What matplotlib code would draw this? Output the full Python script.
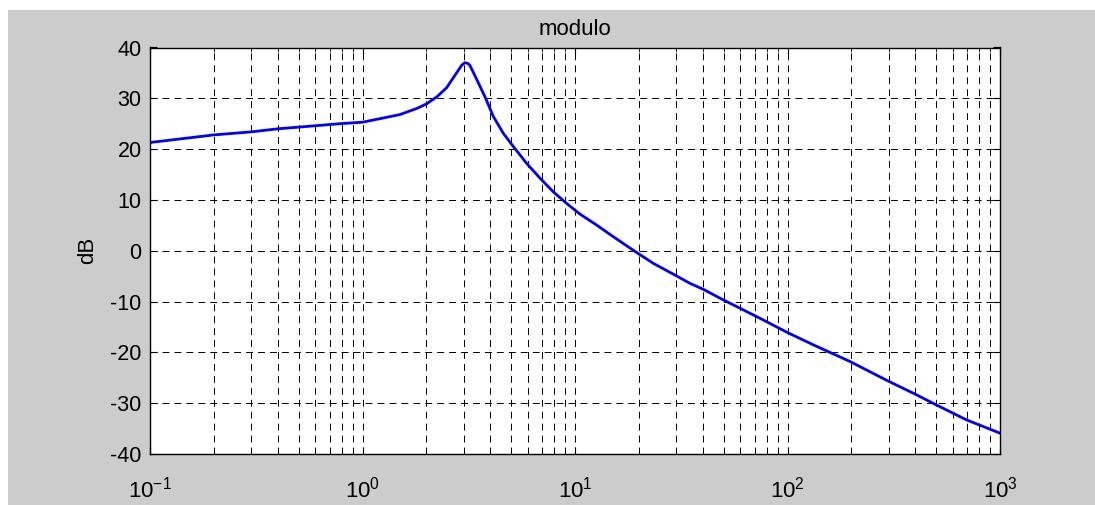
import matplotlib
matplotlib.use('Agg')
import matplotlib.pyplot as plt
from matplotlib.patches import Rectangle
from matplotlib.ticker import LogLocator, NullFormatter

# Frequenz [rad/s] und Betrag [dB]
freq = [0.1, 0.2, 0.3, 0.4, 0.6, 0.78, 1.0, 1.21, 1.5, 1.8, 2.0, 2.24, 2.49, 2.72,
        2.93, 3.03, 3.12, 3.20, 3.44, 3.77, 4.13, 4.60, 5.13, 5.92, 6.84, 7.90,
        9.14, 10.56, 12.6, 15.1, 18.8, 23.4, 29.6, 34.7, 40.2, 49.5, 74.3, 100,
        132, 197, 293, 398, 494, 697, 1000]
mag_db = [21.3, 22.8, 23.4, 24.0, 24.6, 25.0, 25.3, 26.0, 26.8, 28.0, 28.9, 30.3, 32.1, 34.5,
          36.5, 37.0, 36.9, 36.5, 33.8, 30.3, 26.4, 23.1, 20.5, 17.2, 14.3, 11.6,
          9.3, 7.2, 5.1, 2.8, 0.1, -2.5, -4.8, -6.4, -7.6, -9.6, -13.3, -16.1,
          -18.5, -21.8, -25.5, -28.2, -30.2, -33.3, -35.9]

y_ticks = [-40, -30, -20, -10, 0, 10, 20, 30, 40]

plt.rcParams['font.family'] = ['Liberation Sans', 'DejaVu Sans']
plt.rcParams['mathtext.fontset'] = 'custom'
plt.rcParams['mathtext.rm'] = 'Liberation Sans'
plt.rcParams['mathtext.it'] = 'Liberation Sans'
plt.rcParams['axes.unicode_minus'] = False
plt.rcParams['lines.scale_dashes'] = False

fig = plt.figure(figsize=(10.95, 5.05), dpi=100, facecolor='white')
# grauer Hintergrund wie im MATLAB-Fenster
fig.patches.append(Rectangle((8 / 1095, 0), 1, 1 - 10 / 505, transform=fig.transFigure,
                             facecolor='#cccccc', edgecolor='none', zorder=-10))

ax = fig.add_axes([150 / 1095, 1 - 454 / 505, 850 / 1095, 406.5 / 505])
ax.set_facecolor('white')
ax.semilogx(freq, mag_db, color='#0000ff', linewidth=2.0)

ax.set_xlim(0.1, 1000)
ax.set_ylim(-40, 40)
ax.set_yticks(y_ticks)
ax.xaxis.set_major_locator(LogLocator(base=10, numticks=10))
ax.xaxis.set_minor_locator(LogLocator(base=10, subs=range(2, 10), numticks=50))
ax.xaxis.set_minor_formatter(NullFormatter())

dash = (0, (5, 3.6))
ax.grid(True, which='major', axis='both', color='k', linestyle=dash, linewidth=0.7)
ax.grid(True, which='minor', axis='x', color='k', linestyle=dash, linewidth=0.7)

ax.tick_params(which='both', direction='in', top=True, right=True, colors='k')
ax.tick_params(axis='y', labelsize=15.5, pad=6)
ax.tick_params(axis='x', labelsize=16, pad=16)
ax.tick_params(which='major', length=5)
ax.tick_params(which='minor', length=3)
for s in ax.spines.values():
    s.set_linewidth(1.0)
    s.set_color('k')

ax.set_title('modulo', fontsize=16, pad=9)
ax.set_ylabel('dB', fontsize=16, labelpad=9)

fig.savefig('out.png', dpi=100, facecolor=fig.get_facecolor())
